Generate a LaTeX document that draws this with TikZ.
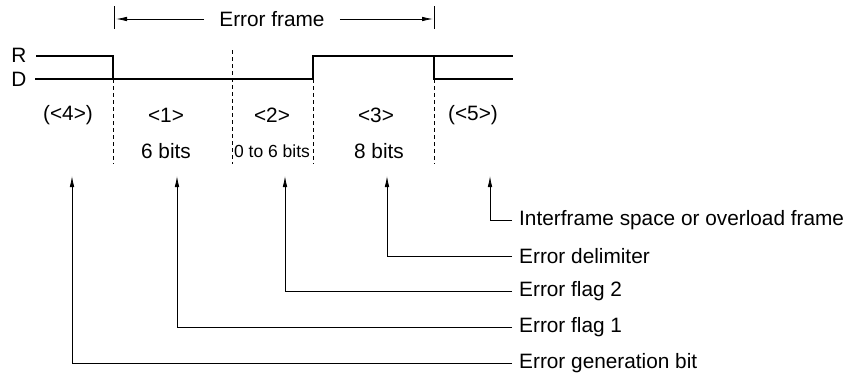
\documentclass[tikz,border=0pt]{standalone}
\usepackage{fontspec}
\setmainfont{Liberation Sans}
\usetikzlibrary{arrows.meta}

\begin{document}
\begin{tikzpicture}[x=1pt, y=-1pt,
  sig/.style={line width=2.4pt},
  guide/.style={line width=0.8pt, dash pattern=on 4pt off 3pt},
  lead/.style={line width=0.8pt, -{Latex[length=11pt,width=4.5pt]}},
  lbl/.style={font=\fontsize{20.8}{23}\selectfont, inner sep=0pt},
  txt/.style={font=\fontsize{20.8}{23}\selectfont, anchor=west, inner sep=7pt}]
\useasboundingbox (0,0) rectangle (856,380);
% bus levels
\node[lbl] (R) at (19,55) {R};
\node[lbl] (D) at (19,79) {D};
\draw[sig] (36,56) -- (113,56) -- (113,79) -- (313,79) -- (313,56) -- (434,56) -- (434,79) -- (513,79);
\draw[sig] (35,79) -- (113,79);
\draw[sig] (434,56) -- (513,56);
% field borders
\draw[guide] (113,79) -- (113,164);
\draw[guide] (232,50) -- (232,164);
\draw[guide] (313,79) -- (313,164);
\draw[guide] (434,79) -- (434,164);
% error frame span
\draw[line width=0.8pt] (114,6) -- (114,29);
\draw[line width=0.8pt] (434,6) -- (434,29);
\coordinate (fs) at (116,19);
\coordinate (fe) at (433,19);
\node[lbl, inner xsep=15pt] (frame) at (272,19) {Error frame};
\draw[lead] (frame.west) -- (fs);
\draw[lead] (frame.east) -- (fe);
% field names
\node[lbl] (f4) at (68,115) {(<4>)};
\node[lbl] (f1) at (166,115) {<1>};
\node[lbl] (f2) at (272,115) {<2>};
\node[lbl] (f3) at (376,115) {<3>};
\node[lbl] (f5) at (473,115) {(<5>)};
\node[lbl] (b1) at (166,151) {6 bits};
\node[lbl, font=\fontsize{17.5}{19}\selectfont] (b2) at (272,151) {0 to 6 bits};
\node[lbl] (b3) at (379,151) {8 bits};
% legend
\coordinate (t4) at (72,176);
\coordinate (t1) at (177,176);
\coordinate (t2) at (285,176);
\coordinate (t3) at (387,176);
\coordinate (t5) at (490,176);
\node[txt] (ifs) at (512,220) {Interframe space or overload frame};
\node[txt] (del) at (512,256) {Error delimiter};
\node[txt] (fl2) at (512,291) {Error flag 2};
\node[txt] (fl1) at (512,327) {Error flag 1};
\node[txt] (gen) at (512,363) {Error generation bit};
\draw[lead] (ifs.west) -| (t5);
\draw[lead] (del.west) -| (t3);
\draw[lead] (fl2.west) -| (t2);
\draw[lead] (fl1.west) -| (t1);
\draw[lead] (gen.west) -| (t4);
\end{tikzpicture}
\end{document}
